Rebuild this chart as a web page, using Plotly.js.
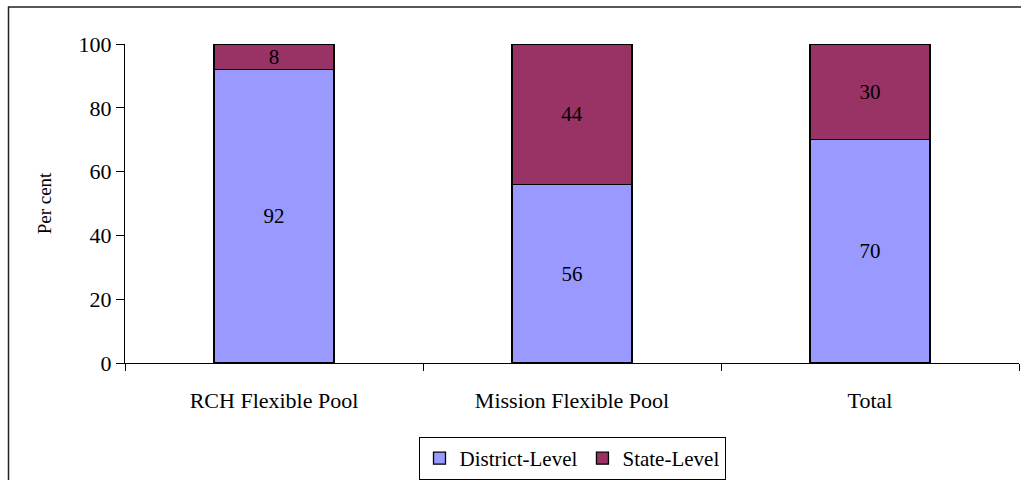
<!DOCTYPE html>
<html>
<head>
<meta charset="utf-8">
<script src="https://cdn.plot.ly/plotly-3.0.1.min.js"></script>
<style>
html,body{margin:0;padding:0;background:#fff;overflow:hidden;}
#chart{width:1021px;height:480px;}
</style>
</head>
<body>
<div id="chart"></div>
<script>
const categories = ["RCH Flexible Pool", "Mission Flexible Pool", "Total"];
const districtLevel = [92, 56, 70];
const stateLevel = [8, 44, 30];
const yTicks = [0, 20, 40, 60, 80, 100];

const FONT = "Liberation Serif, Times New Roman, serif";

const common = {
  type: "bar",
  x: categories,
  texttemplate: "%{y}",
  textposition: "inside",
  insidetextanchor: "middle",
  textangle: 0,
  constraintext: "none",
  textfont: {family: FONT, size: 21, color: "#000"},
  hoverinfo: "skip"
};

const traces = [
  Object.assign({}, common, {
    name: "District-Level",
    y: districtLevel,
    marker: {color: "#9999FF", line: {color: "#000", width: 1.3}}
  }),
  Object.assign({}, common, {
    name: "State-Level",
    y: stateLevel,
    marker: {color: "#993366", line: {color: "#000", width: 1.3}}
  })
];

const layout = {
  width: 1021,
  height: 480,
  barmode: "stack",
  bargap: 0.597,
  margin: {l: 125, r: 2, t: 43.5, b: 117.3, autoexpand: false},
  paper_bgcolor: "#fff",
  plot_bgcolor: "#fff",
  font: {family: FONT, size: 21, color: "#000"},
  showlegend: true,
  legend: {
    orientation: "h",
    x: 0.5, xanchor: "center",
    y: -0.232, yanchor: "top",
    bordercolor: "#000",
    borderwidth: 1,
    font: {family: FONT, size: 21, color: "#000"},
    traceorder: "normal",
    itemclick: false
  },
  xaxis: {
    type: "category",
    showline: true,
    linecolor: "#000",
    linewidth: 1,
    ticks: "outside",
    tickson: "boundaries",
    ticklen: 7,
    tickcolor: "#000",
    ticklabelstandoff: 18,
    showgrid: false,
    zeroline: false,
    tickfont: {family: FONT, size: 22, color: "#000"}
  },
  yaxis: {
    range: [0, 100],
    tickvals: yTicks,
    ticktext: yTicks.map(String),
    showline: true,
    linecolor: "#000",
    linewidth: 1,
    ticks: "outside",
    ticklen: 8,
    tickcolor: "#000",
    showgrid: false,
    zeroline: false,
    tickfont: {family: FONT, size: 22, color: "#000"},
    title: {text: "Per cent", font: {family: FONT, size: 19, color: "#000"}, standoff: 21}
  },
  shapes: [{
    type: "rect",
    xref: "paper", yref: "paper",
    x0: -0.1303, x1: 1.01,
    y0: -0.40, y1: 1.116,
    line: {color: "#222", width: 1.5},
    fillcolor: "rgba(0,0,0,0)",
    layer: "above"
  }]
};

Plotly.newPlot("chart", traces, layout, {displayModeBar: false, staticPlot: true});
</script>
</body>
</html>
